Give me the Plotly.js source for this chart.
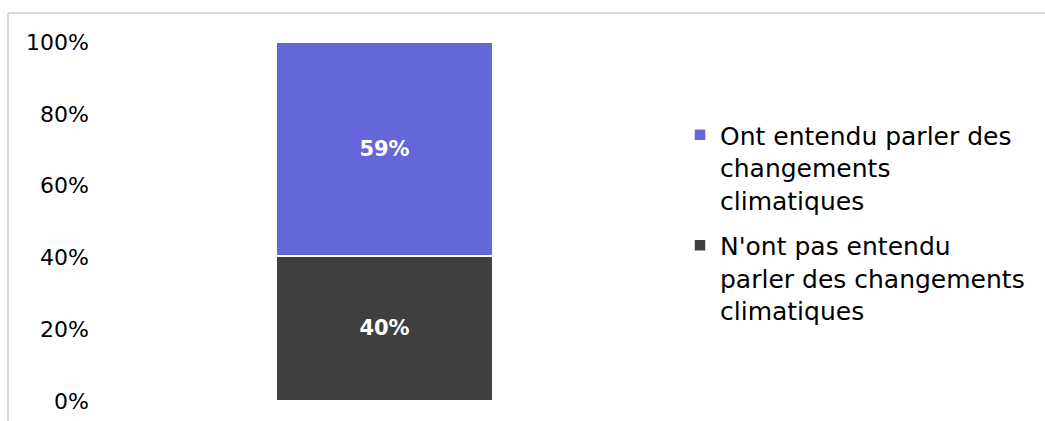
<!DOCTYPE html>
<html>
<head>
<meta charset="utf-8">
<script src="https://cdn.plot.ly/plotly-3.0.1.min.js"></script>
<style>html,body{margin:0;padding:0;background:#fff;}</style>
</head>
<body>
<div id="chart" style="width:1045px;height:421px;"></div>
<script>
const categories = ["Total"];
const seriesNames = [
  "N'ont pas entendu<br>parler des changements<br>climatiques",
  "Ont entendu parler des<br>changements<br>climatiques"
];
const notHeard = [40.4];
const heard = [59.4];
const tickValues = [0, 20, 40, 60, 80, 100];
const tickLabels = ["0%", "20%", "40%", "60%", "80%", "100%"];
const colors = ["#3f3f3f", "#6666db"];

const FONT = "DejaVu Sans, sans-serif";
const common = {
  type: "bar",
  x: categories,
  textposition: "inside",
  insidetextanchor: "middle",
  constraintext: "none",
  texttemplate: "<b>%{y:.0f}%</b>",
  textfont: {family: FONT, size: 21, color: "#ffffff"},
  hoverinfo: "none"
};
const data = [
  Object.assign({}, common, {name: seriesNames[0], legendgroup: "g0", legendrank: 2, y: notHeard, marker: {color: colors[0], line: {color: "#ffffff", width: 1.5}}}),
  Object.assign({}, common, {name: seriesNames[1], legendgroup: "g1", legendrank: 1, y: heard, marker: {color: colors[1], line: {color: "#ffffff", width: 1.5}}})
];
const L = 100, R = 669, T = 42, B = 401;
const pw = R - L, ph = B - T;
const px = v => (v - L) / pw;
const py = v => (B - v) / ph;
const layout = {
  width: 1045, height: 421,
  margin: {l: L, r: 1045 - R, t: T, b: 421 - B, pad: 0},
  barmode: "stack",
  bargap: 1 - 217 / pw,
  paper_bgcolor: "#ffffff",
  plot_bgcolor: "#ffffff",
  font: {family: FONT, color: "#000000"},
  showlegend: true,
  legend: {
    x: px(680), xanchor: "left",
    y: py(112), yanchor: "top",
    valign: "top",
    traceorder: "grouped",
    tracegroupgap: 10,
    font: {family: FONT, size: 25, color: "#000000"},
    itemwidth: 30,
    bgcolor: "rgba(0,0,0,0)"
  },
  xaxis: {showticklabels: false, showline: false, showgrid: false, zeroline: false, ticks: ""},
  yaxis: {
    range: [0, 100],
    tickvals: tickValues, ticktext: tickLabels,
    showline: false, showgrid: false, zeroline: false, ticks: "",
    tickfont: {family: FONT, size: 22, color: "#000000"},
    ticklabelstandoff: 10
  },
  shapes: [
    {type: "line", xref: "paper", yref: "paper", x0: px(8), x1: px(1050), y0: py(13), y1: py(13), line: {color: "#d9d9d9", width: 2}},
    {type: "line", xref: "paper", yref: "paper", x0: px(8), x1: px(8), y0: py(13), y1: py(430), line: {color: "#d9d9d9", width: 2}}
  ]
};
Plotly.newPlot("chart", data, layout, {displayModeBar: false, staticPlot: true});
</script>
</body>
</html>
